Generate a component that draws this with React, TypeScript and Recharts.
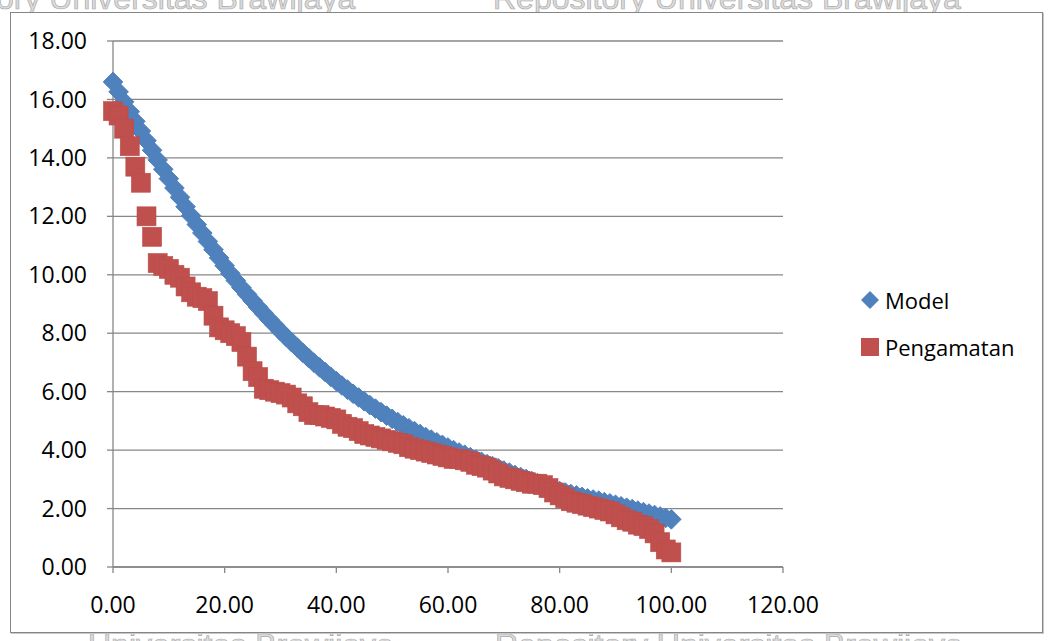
import React from "react"
import { ScatterChart, Scatter, XAxis, YAxis, CartesianGrid } from "recharts"

// exceedance percentage (x) shared by both series
const xPct = [
  0, 1, 2, 3, 4, 5, 6, 7, 8, 9, 10, 11, 12, 13, 14, 15, 16, 17, 18, 19, 20,
  21, 22, 23, 24, 25, 26, 27, 28, 29, 30, 31, 32, 33, 34, 35, 36, 37, 38, 39, 40,
  41, 42, 43, 44, 45, 46, 47, 48, 49, 50, 51, 52, 53, 54, 55, 56, 57, 58, 59, 60,
  61, 62, 63, 64, 65, 66, 67, 68, 69, 70, 71, 72, 73, 74, 75, 76, 77, 78, 79, 80,
  81, 82, 83, 84, 85, 86, 87, 88, 89, 90, 91, 92, 93, 94, 95, 96, 97, 98, 99, 100,
]

const modelVals = [
  16.6, 16.26, 15.92, 15.58, 15.25, 14.92, 14.59, 14.26, 13.93, 13.61, 13.29,
  12.97, 12.65, 12.33, 12.02, 11.72, 11.43, 11.14, 10.86, 10.58, 10.31,
  10.05, 9.8, 9.56, 9.33, 9.11, 8.89, 8.68, 8.47, 8.27, 8.07,
  7.88, 7.69, 7.51, 7.33, 7.16, 6.99, 6.83, 6.67, 6.51, 6.36,
  6.21, 6.07, 5.93, 5.8, 5.67, 5.54, 5.42, 5.3, 5.18, 5.07,
  4.96, 4.85, 4.75, 4.65, 4.55, 4.45, 4.36, 4.27, 4.18, 4.09,
  4.0, 3.92, 3.84, 3.76, 3.68, 3.6, 3.52, 3.45, 3.38, 3.3,
  3.23, 3.15, 3.08, 3.01, 2.94, 2.87, 2.8, 2.73, 2.66, 2.6,
  2.55, 2.5, 2.45, 2.4, 2.35, 2.31, 2.27, 2.22, 2.18, 2.13,
  2.08, 2.03, 1.98, 1.93, 1.88, 1.83, 1.78, 1.73, 1.68, 1.63,
]

const obsVals = [
  15.6, 15.45, 15.0, 14.4, 13.7, 13.15, 12.0, 11.3, 10.4, 10.3, 10.2,
  10.0, 9.9, 9.6, 9.4, 9.25, 9.2, 9.1, 8.6, 8.2, 8.1,
  8.0, 7.9, 7.7, 7.2, 6.7, 6.5, 6.1, 6.05, 6.0, 5.95,
  5.9, 5.8, 5.6, 5.5, 5.3, 5.2, 5.2, 5.15, 5.1, 5.05,
  4.9, 4.8, 4.75, 4.65, 4.55, 4.5, 4.45, 4.4, 4.35, 4.3,
  4.25, 4.2, 4.1, 4.05, 4.0, 3.95, 3.9, 3.85, 3.8, 3.75,
  3.7, 3.7, 3.65, 3.6, 3.5, 3.45, 3.4, 3.3, 3.2, 3.1,
  3.05, 3.0, 2.95, 2.9, 2.85, 2.85, 2.8, 2.7, 2.55, 2.45,
  2.35, 2.25, 2.2, 2.15, 2.1, 2.05, 2.0, 1.95, 1.9, 1.8,
  1.7, 1.6, 1.55, 1.45, 1.4, 1.3, 1.15, 0.85, 0.6, 0.5,
]

const xTicks = [0, 20, 40, 60, 80, 100, 120]
const yTicks = [0, 2, 4, 6, 8, 10, 12, 14, 16, 18]
const seriesNames = ["Model", "Pengamatan"]

const BLUE = "#4F81BD"
const RED = "#C0504D"
const GRID = "#878787"
const FONT = "'Open Sans', 'DejaVu Sans', sans-serif"

const modelData = xPct.map((x, i) => ({ x, y: modelVals[i] }))
const obsData = xPct.map((x, i) => ({ x, y: obsVals[i] }))

/* eslint-disable @typescript-eslint/no-explicit-any */
const DiamondDot = (props: any) => {
  const { cx, cy } = props
  const r = 9.8
  return (
    <polygon
      points={`${cx},${cy - r} ${cx + r},${cy} ${cx},${cy + r} ${cx - r},${cy}`}
      fill={BLUE}
      stroke={BLUE}
      strokeWidth={1}
    />
  )
}

const SquareDot = (props: any) => {
  const { cx, cy } = props
  return <rect x={cx - 9.5} y={cy - 9.5} width={19} height={19} fill={RED} stroke="#bb4d4a" strokeWidth={0.6} />
}

const fmt = (v: number) => v.toFixed(2)

export default function App() {
  return (
    <div style={{ position: "fixed", left: 0, top: 0, width: 1049, height: 641, background: "#fff", overflow: "hidden" }}>
      {/* scanned-page watermark around the chart */}
      <svg width={1049} height={641} style={{ position: "absolute", left: 0, top: 0 }}>
        <g fontFamily="'Liberation Sans', Arial, sans-serif" fontSize={32} fill="#dcdcdc" stroke="#a9a9a9" strokeWidth={0.7}>
          <text x={-4} y={9}>ory Universitas Brawijaya</text>
          <text x={493} y={9}>Repository Universitas Brawijaya</text>
          <text x={88} y={656}>Universitas Brawijaya</text>
          <text x={495} y={656}>Repository Universitas Brawijaya</text>
        </g>
      </svg>

      {/* chart frame */}
      <div
        style={{
          position: "absolute", left: 10, top: 12, width: 1031, height: 619,
          border: "1.5px solid #858585", background: "#fff", boxShadow: "1px 1px 0 #c8c8c8",
        }}
      />

      <div style={{ position: "absolute", left: 0, top: 0 }}>
        <ScatterChart width={1049} height={641} margin={{ top: 41, right: 266, bottom: 34, left: 53 }}>
          <CartesianGrid vertical={false} stroke={GRID} strokeWidth={1.3} />
          <XAxis
            type="number" dataKey="x" domain={[0, 120]} ticks={xTicks} tickFormatter={fmt}
            height={40} tickSize={6} tickMargin={24}
            axisLine={{ stroke: GRID, strokeWidth: 1.3 }} tickLine={{ stroke: GRID, strokeWidth: 1.3 }}
            tick={{ fill: "#000", fontSize: 23, fontFamily: FONT }}
          />
          <YAxis
            type="number" dataKey="y" domain={[0, 18]} ticks={yTicks} tickFormatter={fmt}
            width={60} tickSize={6} tickMargin={20}
            axisLine={{ stroke: GRID, strokeWidth: 1.3 }} tickLine={{ stroke: GRID, strokeWidth: 1.3 }}
            tick={{ fill: "#000", fontSize: 23, fontFamily: FONT }}
          />
          <Scatter name={seriesNames[0]} data={modelData} shape={<DiamondDot />} isAnimationActive={false} />
          <Scatter name={seriesNames[1]} data={obsData} shape={<SquareDot />} isAnimationActive={false} />
        </ScatterChart>
      </div>

      {/* legend */}
      <div style={{ position: "absolute", left: 860, top: 276, fontFamily: FONT, fontSize: 22, color: "#000" }}>
        <div style={{ display: "flex", alignItems: "center", height: 47 }}>
          <svg width={20} height={20}>
            <polygon points="10,1 19,10 10,19 1,10" fill={BLUE} />
          </svg>
          <span style={{ marginLeft: 5 }}>{seriesNames[0]}</span>
        </div>
        <div style={{ display: "flex", alignItems: "center", height: 47 }}>
          <svg width={20} height={20}>
            <rect x={1} y={1} width={18} height={18} fill={RED} />
          </svg>
          <span style={{ marginLeft: 5 }}>{seriesNames[1]}</span>
        </div>
      </div>
    </div>
  )
}
